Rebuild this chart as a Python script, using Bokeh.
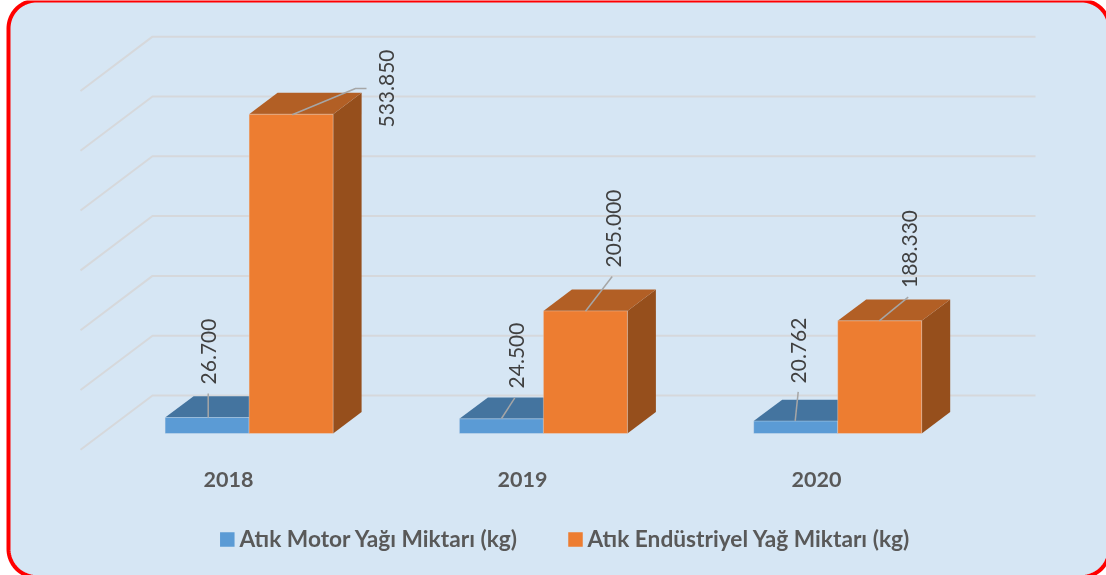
import numpy as np
from bokeh.plotting import figure
from bokeh.models import Range1d
from bokeh.embed import file_html
from bokeh.resources import INLINE
from bokeh.core.properties import value

# ---- data ----
years = ["2018", "2019", "2020"]
motor_oil = [26700, 24500, 20762]
industrial_oil = [533850, 205000, 188330]
series_names = ["Atık Motor Yağı Miktarı (kg)", "Atık Endüstriyel Yağ Miktarı (kg)"]
grid_values = [0, 100000, 200000, 300000, 400000, 500000, 600000]

# ---- layout ----
W, H = 1106, 575
Y0_PX, PX_PER_UNIT = 433.0, 319.3 / 533850
X0_PX, PX_PER_CAT = 248.6, 294.3
BAR_W = 84.0 / PX_PER_CAT
DX, DY = 28.5 / PX_PER_CAT, 21.4 / PX_PER_UNIT

BG = "#D6E6F4"
BLUE, BLUE_TOP = "#5B9BD5", "#44749F"
ORANGE, ORANGE_TOP, ORANGE_SIDE = "#ED7D31", "#B25F25", "#964F1C"
BLUE_SIDE = "#386085"
GRID = "#D6D8DB"
LEADER = "#A6A6A6"
LABEL = "#404040"
BOLD = "#595959"
FONT = "Lato"

p = figure(width=W, height=H, output_backend="svg", toolbar_location=None,
           x_axis_type=None, y_axis_type=None, min_border=0,
           x_range=Range1d(-X0_PX / PX_PER_CAT, (W - X0_PX) / PX_PER_CAT),
           y_range=Range1d((Y0_PX - H) / PX_PER_UNIT, Y0_PX / PX_PER_UNIT),
           outline_line_color=None, background_fill_color="white",
           border_fill_color="white",
           styles={"position": "fixed", "left": "0px", "top": "0px"})
p.grid.visible = False
p.extra_x_ranges["px"] = Range1d(0, W)
p.extra_y_ranges["px"] = Range1d(H, 0)
PX = dict(x_range_name="px", y_range_name="px")

# rounded panel
L, T, R_, B, r = 8, 0, 1109, 576.5, 28
a = np.linspace(0, np.pi / 2, 24)
px_x = np.concatenate([L + r - r * np.cos(a), R_ - r + r * np.sin(a),
                       R_ - r + r * np.cos(a), L + r - r * np.sin(a)])
px_y = np.concatenate([T + r - r * np.sin(a), T + r - r * np.cos(a),
                       B - r + r * np.sin(a), B - r + r * np.cos(a)])
p.patch(px_x, px_y, fill_color=BG, line_color="#FF0000", line_width=4, **PX)

# floor + back wall gridlines (value axis)
BACK_X, FRONT_X, END_X = 152, 80, 1035
BACK_OFF, FRONT_OFF = 38.0 / PX_PER_UNIT, -16.3 / PX_PER_UNIT
for v in grid_values:
    xs = [(q - X0_PX) / PX_PER_CAT for q in (FRONT_X, BACK_X, END_X)]
    ys = [v + FRONT_OFF, v + BACK_OFF, v + BACK_OFF]
    p.line(xs, ys, line_color=GRID, line_width=2)


def bar(x0, val, front, top, side):
    x1 = x0 + BAR_W
    p.patch([x1, x1 + DX, x1 + DX, x1], [0, DY, val + DY, val], fill_color=side, line_color=None)
    p.patch([x0, x0 + DX, x1 + DX, x1], [val, val + DY, val + DY, val], fill_color=top, line_color=None)
    p.patch([x0, x1, x1, x0], [0, 0, val, val], fill_color=front,
            line_color="#E3E8EE", line_alpha=0.35, line_width=1)


for i in range(len(years)):
    bar(i - BAR_W, motor_oil[i], BLUE, BLUE_TOP, BLUE_SIDE)
    bar(i, industrial_oil[i], ORANGE, ORANGE_TOP, ORANGE_SIDE)

# leader lines
leaders = [
    ([207.7, 207.7], [417, 393]),
    ([291.7, 355, 366], [114.3, 88, 88]),
    ([501, 514.3], [418, 397.3]),
    ([585, 611.7], [310.7, 276]),
    ([794.7, 797.7], [420.3, 391.3]),
    ([878.7, 907.7], [320.3, 296.7]),
]
for xs, ys in leaders:
    p.line(xs, ys, line_color=LEADER, line_width=1.5, **PX)

# data labels
fmt = lambda n: f"{n:,}".replace(",", ".")
label_text = [fmt(motor_oil[0]), fmt(industrial_oil[0]), fmt(motor_oil[1]),
              fmt(industrial_oil[1]), fmt(motor_oil[2]), fmt(industrial_oil[2])]
label_x = [208, 385.5, 515.5, 613, 798, 909]
label_y = [351, 88, 355, 228, 350, 248.5]
p.text(label_x, label_y, text=label_text, angle=np.pi / 2, text_align="center",
       text_baseline="middle", text_color=LABEL, text_font=value(FONT),
       text_font_size="21px", **PX)

# category labels
p.text([228, 522, 816], [479] * 3, text=years, text_align="center", text_baseline="middle",
       text_color=BOLD, text_font=value(FONT), text_font_style="bold",
       text_font_size="21.5px", **PX)

# legend
p.rect([226.8, 575], [539, 539], width=14.5, height=14.5, fill_color=[BLUE, ORANGE],
       line_color=None, **PX)
p.text([239, 587], [538, 538], text=series_names, text_align="left", text_baseline="middle",
       text_color=BOLD, text_font=value(FONT), text_font_style="bold",
       text_font_size="22.7px", **PX)

open("out.html", "w").write(file_html(p, INLINE))
